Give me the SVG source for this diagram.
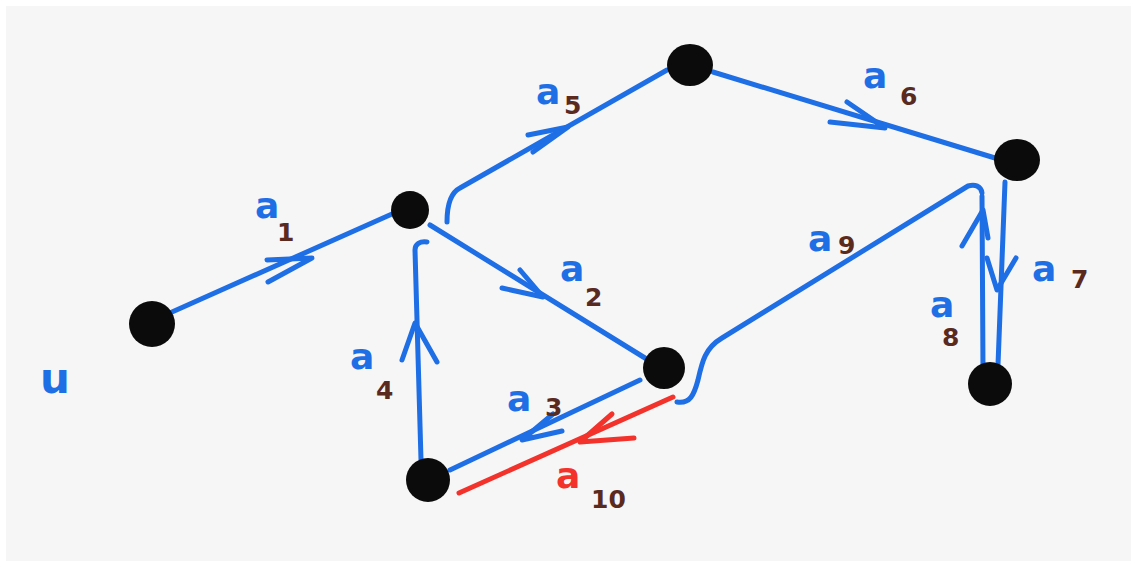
<svg xmlns="http://www.w3.org/2000/svg" width="1137" height="567" viewBox="0 0 1137 567">
  <style>
    .edge { fill: none; stroke: #1e6ee6; stroke-width: 5; stroke-linecap: round; stroke-linejoin: round; }
    .red { stroke: #f2322b; }
    .node { fill: #0b0b0b; }
    .lbl { font-family: "DejaVu Sans", sans-serif; font-size: 36px; font-weight: bold; fill: #1e6ee6; }
    .sub { font-family: "DejaVu Sans", sans-serif; font-size: 25px; fill: #5a2a1f; font-weight: bold; }
  </style>
  <rect x="0" y="0" width="1137" height="567" fill="#ffffff"/>
  <rect x="6" y="6" width="1125" height="555" fill="#f6f6f6"/>

  <g id="connectors">
    <!-- a1 -->
    <path class="edge" d="M172 312 L392 214"/>
    <path class="edge" d="M267 260 L312 258 L268 282"/>
    <!-- a5 -->
    <path class="edge" d="M447 222 C447 212 448 194 460 188 L667 70"/>
    <path class="edge" d="M528 135 L568 127 L533 152"/>
    <!-- a6 -->
    <path class="edge" d="M713 72 L995 158"/>
    <path class="edge" d="M830 122 L885 128 L847 102"/>
    <!-- a2 -->
    <path class="edge" d="M430 225 L645 358"/>
    <path class="edge" d="M502 288 L543 297 L520 270"/>
    <!-- a3 -->
    <path class="edge" d="M640 380 L450 470"/>
    <path class="edge" d="M553 414 L522 440 L562 431"/>
    <!-- a10 -->
    <path class="edge red" d="M673 397 L459 493"/>
    <path class="edge red" d="M612 414 L580 442 L634 438"/>
    <!-- a4 -->
    <path class="edge" d="M421 460 L415 250 C415 244 420 241 427 242"/>
    <path class="edge" d="M402 360 L415 323 L437 362"/>
    <!-- a9 -->
    <path class="edge" d="M677 402 C690 404 694 395 698 380 C702 362 705 348 722 338 L968 186 C975 184 981 186 982 193"/>
    <!-- a8 -->
    <path class="edge" d="M983 370 L982 196"/>
    <path class="edge" d="M962 246 L983 210 L988 238"/>
    <!-- a7 -->
    <path class="edge" d="M1005 182 L998 365"/>
    <path class="edge" d="M987 258 L997 290 L1016 258"/>
  </g>

  <g id="node-1"><circle class="node" cx="152" cy="324" r="23"/></g>
  <g id="node-2"><circle class="node" cx="410" cy="210" r="19"/></g>
  <g id="node-3"><ellipse class="node" cx="690" cy="65" rx="23" ry="21"/></g>
  <g id="node-4"><ellipse class="node" cx="1017" cy="160" rx="23" ry="21"/></g>
  <g id="node-5"><circle class="node" cx="664" cy="368" r="21"/></g>
  <g id="node-6"><circle class="node" cx="428" cy="480" r="22"/></g>
  <g id="node-7"><circle class="node" cx="990" cy="384" r="22"/></g>

  <g id="labels">
    <text class="lbl" x="255" y="218">a</text><text class="sub" x="277" y="241">1</text>
    <text class="lbl" x="536" y="104">a</text><text class="sub" x="564" y="114">5</text>
    <text class="lbl" x="863" y="88">a</text><text class="sub" x="900" y="105">6</text>
    <text class="lbl" x="560" y="281">a</text><text class="sub" x="585" y="306">2</text>
    <text class="lbl" x="507" y="411">a</text><text class="sub" x="545" y="416">3</text>
    <text class="lbl" x="556" y="488" style="fill:#f2322b">a</text><text class="sub" x="591" y="508">10</text>
    <text class="lbl" x="350" y="369">a</text><text class="sub" x="376" y="399">4</text>
    <text class="lbl" x="808" y="251">a</text><text class="sub" x="838" y="254">9</text>
    <text class="lbl" x="1032" y="281">a</text><text class="sub" x="1071" y="288">7</text>
    <text class="lbl" x="930" y="317">a</text><text class="sub" x="942" y="346">8</text>
    <text class="lbl" x="40" y="393" style="font-size:42px">u</text>
  </g>
</svg>
